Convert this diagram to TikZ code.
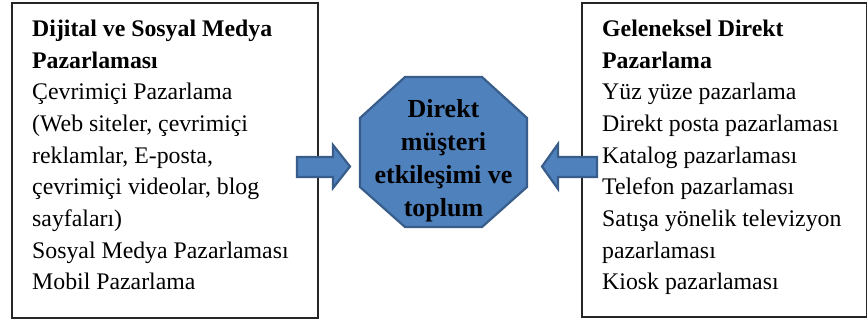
\documentclass[tikz,border=0pt]{standalone}
\usepackage{fontspec}
\setmainfont{Liberation Serif}
\definecolor{blockfill}{HTML}{4F81BD}
\definecolor{blockedge}{HTML}{385D8A}
\tikzset{
  panel/.style={draw=black!85, line width=1.3pt},
  paneltext/.style={anchor=north west, inner sep=0pt, align=left,
    font=\fontsize{23.8}{31.7}\selectfont},
  block/.style={fill=blockfill, draw=blockedge, line width=2.2pt, line join=miter},
  coretext/.style={inner sep=0pt, align=center,
    font=\fontsize{26}{33}\selectfont\bfseries}
}
\begin{document}
\begin{tikzpicture}[x=1pt,y=-1pt]
\useasboundingbox (0,0) rectangle (868,322);

% two framed panels
\draw[panel] (12,3) rectangle (318,318);
\draw[panel] (582,3) rectangle (866.5,317);

\node[paneltext] (digital) at (32,19.6) {%
\textbf{Dijital ve Sosyal Medya}\\
\textbf{Pazarlaması}\\
Çevrimiçi Pazarlama\\
(Web siteler, çevrimiçi\\
reklamlar, E-posta,\\
çevrimiçi videolar, blog\\
sayfaları)\\
Sosyal Medya Pazarlaması\\
Mobil Pazarlama};

\node[paneltext] (classic) at (602,19.6) {%
\textbf{Geleneksel Direkt}\\
\textbf{Pazarlama}\\
Yüz yüze pazarlama\\
Direkt posta pazarlaması\\
Katalog pazarlaması\\
Telefon pazarlaması\\
Satışa yönelik televizyon\\
pazarlaması\\
Kiosk pazarlaması};

% central octagon
\draw[block] (405,77) -- (482,77) -- (527,118) -- (527,187) -- (482,227)
  -- (405,227) -- (360,187) -- (360,118) -- cycle;
\node[coretext] (core) at (443.5,160.5) {Direkt\\müşteri\\etkileşimi ve\\toplum};

% block arrows pointing at the octagon
\draw[block] (297,157) -- (333,157) -- (333,145) -- (350,166.5) -- (333,188)
  -- (333,177) -- (297,177) -- cycle;
\draw[block] (597,157) -- (558,157) -- (558,144) -- (542,166.5) -- (558,189)
  -- (558,177) -- (597,177) -- cycle;
\end{tikzpicture}
\end{document}
